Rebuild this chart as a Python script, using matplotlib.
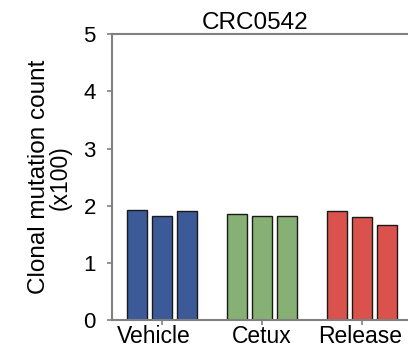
import numpy as np
import matplotlib
matplotlib.use("Agg")
import matplotlib.pyplot as plt
import matplotlib.transforms as mtransforms

plt.rcParams['font.family'] = ['Liberation Sans', 'DejaVu Sans']

# clonal mutation counts (x100), three replicates per arm
groups = ['Vehicle', 'Cetux', 'Release']
vehicle = [1.92, 1.82, 1.91]
cetux = [1.86, 1.82, 1.82]
release = [1.91, 1.81, 1.67]
colors = ['#3b5a97', '#87b174', '#db524c']

fig = plt.figure(figsize=(4.08, 3.49), dpi=100)
ax = fig.add_axes([0.2745, 0.0817, 0.7255, 0.8209])

width = 0.2
offsets = [-0.25, 0.0, 0.25]
for i, (vals, col) in enumerate(zip([vehicle, cetux, release], colors)):
    for off, v in zip(offsets, vals):
        ax.bar(i + off, v, width=width, color=col, edgecolor='#1a1a1a',
               linewidth=1.0, zorder=2)

ax.set_xlim(-0.497, 2.463)
ax.set_ylim(0, 5)
ax.set_xticks(range(len(groups)))
ax.set_xticklabels(groups, fontsize=16.5)
ax.set_yticks(range(6))
ax.tick_params(axis='y', labelsize=16, length=3.6, color='#808080', width=1.2, pad=8)
ax.tick_params(axis='x', length=3.6, color='#808080', width=1.2, pad=0)

# nudge the first and last group labels a little to the left
shifts = [-8, 0, -2]
for lab, dx in zip(ax.get_xticklabels(), shifts):
    lab.set_transform(lab.get_transform() +
                      mtransforms.ScaledTranslation(dx / 100, 0, fig.dpi_scale_trans))

for side in ['left', 'top', 'bottom']:
    ax.spines[side].set_color('#808080')
    ax.spines[side].set_linewidth(1.5)
ax.spines['right'].set_visible(False)

ax.set_title('CRC0542', fontsize=17.5, pad=3.5, x=0.483)

# two-line y label: main line plus the unit line
ax.set_ylabel('Clonal mutation count', fontsize=17.5)
ax.yaxis.label.set_va('baseline')
ax.yaxis.set_label_coords(-67 / 296, 0.5)
ax.text(-45 / 296, 0.5, '(x100)', transform=ax.transAxes, fontsize=16.5,
        rotation=90, rotation_mode='anchor', ha='center', va='baseline')

fig.savefig('out.png', dpi=100)
